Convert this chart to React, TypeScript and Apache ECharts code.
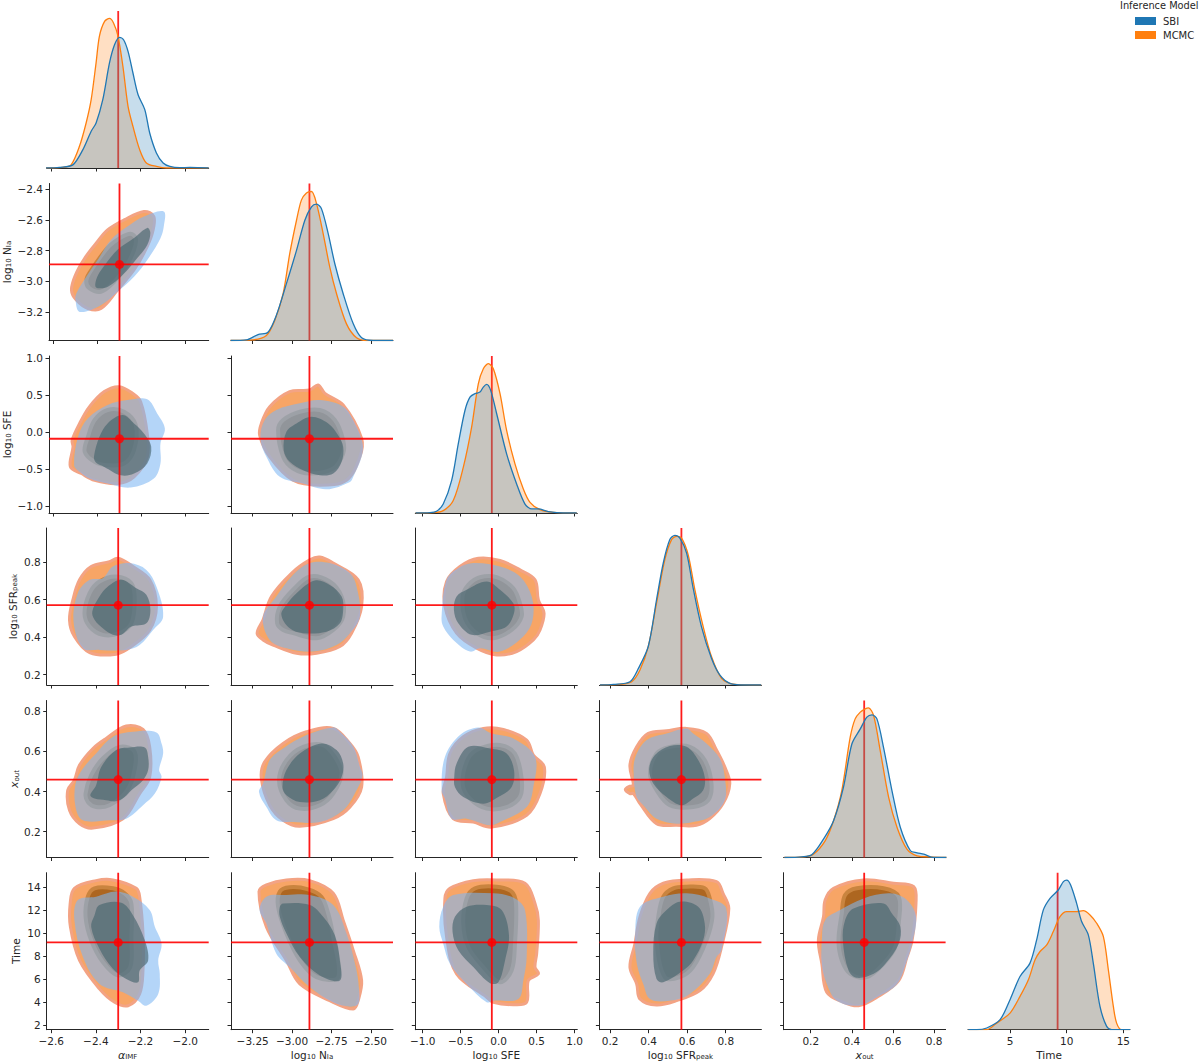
import React, { useEffect, useRef } from "react";
import * as echarts from "echarts";

type Pt = [number, number];

// Truth values, axis limits and ticks per parameter (alpha, NIa, SFE, SFRpeak, xout, Time)
const truths = [-2.3, -2.89, -0.09, 0.57, 0.46, 9.2];
const xLimits: Pt[] = [[-2.62, -1.895], [-3.3875, -2.36], [-1.098, 1.036], [0.1446, 0.985], [0.068, 0.856], [1.29, 15.59]];
const yLimits: Pt[] = [[0, 1], [-3.385, -2.363], [-1.095, 1.03], [0.145, 0.981], [0.0715, 0.854], [1.59, 15.28]];
const xTicks = [[-2.6, -2.4, -2.2, -2.0], [-3.25, -3.0, -2.75, -2.5], [-1, -0.5, 0, 0.5, 1], [0.2, 0.4, 0.6, 0.8], [0.2, 0.4, 0.6, 0.8], [5, 10, 15]];
const yTicks = [[], [-3.2, -3.0, -2.8, -2.6, -2.4], [-1, -0.5, 0, 0.5, 1], [0.2, 0.4, 0.6, 0.8], [0.2, 0.4, 0.6, 0.8], [2, 4, 6, 8, 10, 12, 14]];
const xDecimals = [1, 2, 1, 1, 1, 0];
const yDecimals = [0, 1, 1, 1, 1, 0];
const labelsX = ["{i|α}{s|IMF}", "log{s|10} N{s|Ia}", "log{s|10} SFE", "log{s|10} SFR{s|peak}", "{i|x}{s|out}", "Time"];
const labelsY = ["", "log{s|10} N{s|Ia}", "log{s|10} SFE", "log{s|10} SFR{s|peak}", "{i|x}{s|out}", "Time"];
const nameGapsY = [0, 37, 37, 28, 26, 25];

// Marginal densities, as a fraction of the panel's height
const kdeAlphaMcmc: Pt[] = [[-2.623,0],[-2.548,0.004],[-2.511,0.02],[-2.473,0.14],[-2.443,0.29],[-2.421,0.435],[-2.399,0.67],[-2.384,0.84],[-2.361,0.934],[-2.339,0.953],[-2.321,0.924],[-2.301,0.84],[-2.279,0.648],[-2.256,0.393],[-2.234,0.265],[-2.204,0.117],[-2.174,0.032],[-2.129,0.01],[-2.084,0],[-1.895,0]];
const kdeAlphaSbi: Pt[] = [[-2.623,0],[-2.563,0.004],[-2.503,0.02],[-2.458,0.117],[-2.421,0.234],[-2.399,0.287],[-2.369,0.435],[-2.339,0.669],[-2.316,0.786],[-2.294,0.832],[-2.276,0.817],[-2.256,0.743],[-2.234,0.605],[-2.211,0.467],[-2.181,0.372],[-2.159,0.223],[-2.129,0.096],[-2.099,0.032],[-2.069,0.01],[-2.024,0.002],[-1.979,0.004],[-1.895,0]];
const kdeNiaMcmc: Pt[] = [[-3.39,0],[-3.248,0.004],[-3.163,0.032],[-3.11,0.128],[-3.057,0.298],[-3.015,0.553],[-2.972,0.766],[-2.941,0.894],[-2.909,0.94],[-2.877,0.949],[-2.845,0.872],[-2.803,0.681],[-2.761,0.468],[-2.718,0.298],[-2.655,0.106],[-2.591,0.017],[-2.528,0],[-2.36,0]];
const kdeNiaSbi: Pt[] = [[-3.39,0],[-3.29,0.004],[-3.216,0.038],[-3.153,0.053],[-3.1,0.16],[-3.036,0.362],[-2.972,0.574],[-2.919,0.766],[-2.877,0.851],[-2.845,0.868],[-2.814,0.84],[-2.771,0.681],[-2.729,0.489],[-2.676,0.298],[-2.612,0.106],[-2.559,0.017],[-2.485,0],[-2.36,0]];
const kdeSfeMcmc: Pt[] = [[-1.095,0],[-0.862,0.002],[-0.73,0.015],[-0.598,0.079],[-0.466,0.291],[-0.356,0.547],[-0.268,0.823],[-0.202,0.919],[-0.136,0.951],[-0.07,0.919],[0.018,0.76],[0.105,0.526],[0.215,0.313],[0.325,0.153],[0.413,0.068],[0.545,0.021],[0.721,0.004],[1.029,0]];
const kdeSfeSbi: Pt[] = [[-1.095,0],[-0.905,0.002],[-0.818,0.011],[-0.73,0.057],[-0.62,0.206],[-0.532,0.44],[-0.444,0.653],[-0.378,0.738],[-0.312,0.76],[-0.246,0.77],[-0.202,0.802],[-0.158,0.819],[-0.105,0.781],[-0.026,0.632],[0.105,0.377],[0.237,0.185],[0.347,0.057],[0.435,0.026],[0.523,0.026],[0.655,0.009],[0.853,0],[1.029,0]];
const kdeSfrMcmc: Pt[] = [[0.148,0],[0.252,0.004],[0.312,0.021],[0.355,0.096],[0.398,0.245],[0.441,0.521],[0.484,0.798],[0.519,0.926],[0.545,0.947],[0.571,0.936],[0.605,0.83],[0.64,0.606],[0.683,0.372],[0.726,0.181],[0.778,0.043],[0.838,0.006],[0.984,0]];
const kdeSfrSbi: Pt[] = [[0.148,0],[0.217,0.004],[0.303,0.021],[0.347,0.106],[0.398,0.245],[0.441,0.543],[0.476,0.777],[0.51,0.926],[0.536,0.953],[0.562,0.936],[0.597,0.84],[0.631,0.617],[0.674,0.372],[0.726,0.17],[0.769,0.064],[0.821,0.011],[0.907,0],[0.984,0]];
const kdeXoutMcmc: Pt[] = [[0.072,0],[0.164,0.004],[0.213,0.021],[0.27,0.106],[0.311,0.234],[0.351,0.426],[0.392,0.766],[0.416,0.883],[0.441,0.926],[0.465,0.947],[0.481,0.953],[0.506,0.904],[0.538,0.681],[0.579,0.383],[0.62,0.191],[0.668,0.053],[0.717,0.011],[0.782,0.004],[0.86,0]];
const kdeXoutSbi: Pt[] = [[0.072,0],[0.156,0.004],[0.205,0.017],[0.262,0.117],[0.311,0.234],[0.359,0.447],[0.4,0.723],[0.441,0.819],[0.473,0.894],[0.498,0.909],[0.522,0.883],[0.554,0.702],[0.595,0.426],[0.636,0.191],[0.685,0.043],[0.717,0.03],[0.75,0.021],[0.798,0],[0.86,0]];
const kdeTimeMcmc: Pt[] = [[1.32,0],[2.94,0],[3.82,0.042],[5,0.106],[5.88,0.212],[6.62,0.318],[7.21,0.445],[7.65,0.498],[8.24,0.54],[8.82,0.625],[9.41,0.72],[10,0.752],[10.88,0.752],[11.47,0.758],[12.06,0.731],[12.65,0.678],[13.24,0.593],[13.68,0.381],[14.12,0.148],[14.41,0.042],[14.85,0],[15.59,0]];
const kdeTimeSbi: Pt[] = [[1.32,0],[2.06,0],[2.94,0.011],[4.12,0.064],[5,0.191],[5.88,0.339],[6.76,0.424],[7.35,0.572],[7.94,0.763],[8.53,0.837],[9.26,0.89],[9.71,0.943],[10,0.953],[10.35,0.922],[10.88,0.805],[11.32,0.689],[11.91,0.604],[12.35,0.424],[12.94,0.148],[13.53,0.021],[13.97,0],[15.59,0]];

// Contours: mO = MCMC outer, mI = MCMC inner, bO = SBI outer, bI = SBI inner; suffix = row, column
const mO10: Pt[] = [[-2.518,-3.057],[-2.5,-2.959],[-2.458,-2.85],[-2.406,-2.752],[-2.354,-2.665],[-2.279,-2.6],[-2.189,-2.545],[-2.144,-2.578],[-2.151,-2.687],[-2.189,-2.817],[-2.234,-2.926],[-2.309,-3.057],[-2.384,-3.177],[-2.443,-3.177],[-2.496,-3.122]];
const mI10: Pt[] = [[-2.451,-3.0],[-2.437,-2.946],[-2.353,-2.78],[-2.3,-2.72],[-2.25,-2.69],[-2.226,-2.72],[-2.234,-2.796],[-2.271,-2.905],[-2.324,-3.003],[-2.384,-3.068],[-2.436,-3.046]];
const bO10: Pt[] = [[-2.5,-3.122],[-2.496,-3.079],[-2.451,-2.97],[-2.399,-2.861],[-2.339,-2.73],[-2.264,-2.643],[-2.189,-2.578],[-2.099,-2.545],[-2.099,-2.643],[-2.114,-2.719],[-2.174,-2.861],[-2.234,-2.97],[-2.309,-3.068],[-2.384,-3.155],[-2.481,-3.199]];
const bI10: Pt[] = [[-2.406,-2.99],[-2.383,-2.926],[-2.309,-2.795],[-2.234,-2.718],[-2.174,-2.652],[-2.16,-2.685],[-2.174,-2.763],[-2.219,-2.848],[-2.286,-2.959],[-2.353,-3.035],[-2.406,-3.04]];

const mO20: Pt[] = [[-2.523,-0.47],[-2.511,-0.2],[-2.515,-0.11],[-2.481,0.118],[-2.436,0.344],[-2.369,0.548],[-2.301,0.615],[-2.241,0.525],[-2.204,0.412],[-2.174,-0.018],[-2.174,-0.335],[-2.234,-0.606],[-2.309,-0.697],[-2.413,-0.652],[-2.473,-0.561]];
const mI20: Pt[] = [[-2.458,-0.267],[-2.443,-0.063],[-2.413,0.163],[-2.354,0.299],[-2.279,0.276],[-2.226,0.095],[-2.234,-0.244],[-2.279,-0.425],[-2.354,-0.448],[-2.413,-0.403]];
const bO20: Pt[] = [[-2.506,-0.448],[-2.488,-0.063],[-2.443,0.186],[-2.354,0.367],[-2.264,0.434],[-2.174,0.443],[-2.129,0.253],[-2.094,0.05],[-2.114,-0.154],[-2.114,-0.425],[-2.144,-0.629],[-2.249,-0.751],[-2.354,-0.697],[-2.436,-0.629],[-2.481,-0.538]];
const bI20: Pt[] = [[-2.416,-0.335],[-2.391,-0.063],[-2.354,0.118],[-2.286,0.231],[-2.234,0.118],[-2.189,-0.018],[-2.156,-0.199],[-2.174,-0.425],[-2.234,-0.561],[-2.294,-0.584],[-2.369,-0.471],[-2.406,-0.416]];

const mO30: Pt[] = [[-2.518,0.492],[-2.503,0.598],[-2.473,0.705],[-2.421,0.776],[-2.339,0.802],[-2.301,0.82],[-2.234,0.776],[-2.159,0.705],[-2.129,0.563],[-2.159,0.438],[-2.241,0.35],[-2.309,0.309],[-2.428,0.318],[-2.496,0.403]];
const mI30: Pt[] = [[-2.451,0.527],[-2.428,0.634],[-2.384,0.696],[-2.309,0.723],[-2.241,0.687],[-2.226,0.598],[-2.241,0.474],[-2.294,0.421],[-2.369,0.412],[-2.428,0.456]];
const bO30: Pt[] = [[-2.5,0.483],[-2.481,0.634],[-2.428,0.705],[-2.369,0.714],[-2.324,0.776],[-2.249,0.794],[-2.174,0.758],[-2.129,0.669],[-2.099,0.509],[-2.144,0.438],[-2.204,0.358],[-2.264,0.332],[-2.384,0.332],[-2.458,0.341]];
const bI30: Pt[] = [[-2.416,0.536],[-2.384,0.616],[-2.346,0.669],[-2.286,0.705],[-2.219,0.66],[-2.174,0.625],[-2.156,0.545],[-2.174,0.474],[-2.241,0.456],[-2.286,0.412],[-2.324,0.412],[-2.369,0.447],[-2.406,0.492]];

const mO40: Pt[] = [[-2.526,0.407],[-2.496,0.457],[-2.473,0.532],[-2.413,0.615],[-2.354,0.665],[-2.264,0.727],[-2.189,0.71],[-2.159,0.623],[-2.159,0.473],[-2.204,0.39],[-2.279,0.265],[-2.413,0.218],[-2.473,0.24],[-2.518,0.307]];
const mI40: Pt[] = [[-2.446,0.39],[-2.421,0.482],[-2.369,0.565],[-2.294,0.623],[-2.226,0.598],[-2.234,0.473],[-2.271,0.39],[-2.339,0.332],[-2.399,0.323],[-2.436,0.348]];
const bO40: Pt[] = [[-2.491,0.323],[-2.491,0.44],[-2.458,0.515],[-2.399,0.59],[-2.324,0.673],[-2.234,0.698],[-2.129,0.695],[-2.106,0.64],[-2.099,0.59],[-2.117,0.507],[-2.106,0.473],[-2.136,0.39],[-2.189,0.332],[-2.264,0.265],[-2.339,0.257],[-2.458,0.257]];
const bI40: Pt[] = [[-2.425,0.382],[-2.399,0.432],[-2.376,0.523],[-2.309,0.607],[-2.249,0.62],[-2.181,0.62],[-2.166,0.573],[-2.166,0.507],[-2.189,0.457],[-2.241,0.407],[-2.271,0.373],[-2.309,0.352],[-2.354,0.357],[-2.406,0.365]];

const mO50: Pt[] = [[-2.515,12.6],[-2.496,13.92],[-2.399,14.59],[-2.324,14.65],[-2.219,13.92],[-2.204,13.19],[-2.189,9.97],[-2.189,6.75],[-2.204,4.71],[-2.256,3.68],[-2.316,3.98],[-2.384,5.15],[-2.473,7.63],[-2.514,10.56]];
const mI50: Pt[] = [[-2.446,11.43],[-2.436,13.19],[-2.406,13.92],[-2.324,13.92],[-2.271,13.48],[-2.241,12.6],[-2.241,9.68],[-2.246,7.05],[-2.301,6.32],[-2.369,7.49],[-2.421,9.39]];
const bO50: Pt[] = [[-2.496,11.14],[-2.481,12.89],[-2.399,13.19],[-2.309,13.63],[-2.234,13.19],[-2.159,12.02],[-2.136,10.56],[-2.106,9.09],[-2.121,7.63],[-2.114,6.46],[-2.121,4.71],[-2.174,3.68],[-2.211,4.12],[-2.279,4.85],[-2.384,5.58],[-2.458,7.92]];
const bI50: Pt[] = [[-2.421,10.56],[-2.406,11.58],[-2.384,12.46],[-2.286,12.66],[-2.234,11.58],[-2.181,9.39],[-2.166,7.63],[-2.204,6.75],[-2.211,5.73],[-2.264,6.02],[-2.324,6.9],[-2.384,8.65]];

const mO21: Pt[] = [[-3.206,-0.041],[-3.195,0.118],[-3.142,0.344],[-3.015,0.548],[-2.888,0.57],[-2.835,0.638],[-2.792,0.525],[-2.676,0.367],[-2.559,-0.086],[-2.57,-0.335],[-2.655,-0.652],[-2.824,-0.719],[-2.994,-0.652],[-3.142,-0.335]];
const mI21: Pt[] = [[-3.089,0.027],[-3.057,0.163],[-2.951,0.276],[-2.824,0.299],[-2.729,0.163],[-2.676,-0.109],[-2.676,-0.29],[-2.739,-0.493],[-2.888,-0.561],[-2.994,-0.493],[-3.057,-0.335]];
const bO21: Pt[] = [[-3.201,-0.086],[-3.174,0.163],[-3.1,0.299],[-2.951,0.389],[-2.824,0.434],[-2.676,0.344],[-2.602,0.118],[-2.553,-0.154],[-2.559,-0.335],[-2.612,-0.606],[-2.633,-0.674],[-2.782,-0.774],[-2.93,-0.697],[-3.078,-0.606],[-3.163,-0.335]];
const bI21: Pt[] = [[-3.053,-0.244],[-3.036,0.005],[-2.972,0.118],[-2.877,0.208],[-2.771,0.118],[-2.708,-0.041],[-2.676,-0.199],[-2.686,-0.403],[-2.739,-0.561],[-2.824,-0.584],[-2.93,-0.516],[-3.015,-0.403]];

const mO31: Pt[] = [[-3.222,0.421],[-3.184,0.492],[-3.131,0.616],[-3.004,0.74],[-2.888,0.811],[-2.824,0.826],[-2.739,0.794],[-2.581,0.705],[-2.559,0.563],[-2.623,0.421],[-2.697,0.35],[-2.845,0.314],[-2.972,0.314],[-3.121,0.358],[-3.184,0.385]];
const mI31: Pt[] = [[-3.095,0.474],[-3.078,0.563],[-2.994,0.652],[-2.888,0.723],[-2.761,0.696],[-2.686,0.616],[-2.676,0.509],[-2.739,0.438],[-2.845,0.394],[-2.994,0.421],[-3.057,0.438]];
const bO31: Pt[] = [[-3.184,0.509],[-3.1,0.616],[-3.004,0.723],[-2.888,0.794],[-2.761,0.794],[-2.633,0.74],[-2.591,0.669],[-2.57,0.509],[-2.633,0.421],[-2.718,0.358],[-2.867,0.323],[-3.036,0.341],[-3.142,0.385]];
const bI31: Pt[] = [[-3.068,0.518],[-3.036,0.572],[-2.972,0.634],[-2.856,0.701],[-2.761,0.678],[-2.686,0.616],[-2.676,0.545],[-2.697,0.474],[-2.782,0.429],[-2.93,0.421],[-3.015,0.447]];

const mO41: Pt[] = [[-3.195,0.465],[-3.174,0.548],[-3.057,0.64],[-2.909,0.698],[-2.739,0.715],[-2.633,0.64],[-2.581,0.573],[-2.559,0.423],[-2.633,0.323],[-2.739,0.265],[-2.951,0.227],[-3.057,0.257],[-3.142,0.332]];
const mI41: Pt[] = [[-3.083,0.457],[-3.036,0.557],[-2.93,0.623],[-2.803,0.632],[-2.729,0.573],[-2.686,0.49],[-2.739,0.39],[-2.824,0.332],[-2.951,0.315],[-3.036,0.357]];
const bO41: Pt[] = [[-3.21,0.398],[-3.184,0.44],[-3.142,0.557],[-3.057,0.615],[-2.909,0.682],[-2.739,0.72],[-2.697,0.698],[-2.612,0.623],[-2.57,0.523],[-2.553,0.482],[-2.591,0.407],[-2.676,0.307],[-2.824,0.248],[-2.994,0.248],[-3.1,0.257],[-3.163,0.323]];
const bI41: Pt[] = [[-3.061,0.423],[-3.036,0.507],[-2.951,0.59],[-2.814,0.64],[-2.718,0.607],[-2.676,0.54],[-2.686,0.473],[-2.739,0.407],[-2.824,0.357],[-2.951,0.348],[-3.036,0.382]];

const mO51: Pt[] = [[-3.21,13.63],[-3.163,14.21],[-3.036,14.65],[-2.888,14.59],[-2.739,13.48],[-2.676,11.14],[-2.612,8.51],[-2.559,5.88],[-2.581,4.12],[-2.612,3.39],[-2.761,4.12],[-2.951,5.58],[-3.036,7.63],[-3.163,10.56]];
const mI51: Pt[] = [[-3.089,12.31],[-3.078,13.63],[-3.015,14.01],[-2.898,13.83],[-2.814,13.19],[-2.771,11.73],[-2.739,9.68],[-2.708,6.17],[-2.845,6.17],[-2.951,7.63],[-3.036,9.97]];
const bO51: Pt[] = [[-3.206,12.02],[-3.163,13.19],[-3.036,13.33],[-2.888,13.33],[-2.739,12.46],[-2.655,9.97],[-2.591,6.75],[-2.574,4.71],[-2.581,3.83],[-2.633,3.6],[-2.739,3.98],[-2.888,5.29],[-3.015,7.05],[-3.1,8.22],[-3.163,10.85]];
const bI51: Pt[] = [[-3.078,12.31],[-3.057,12.6],[-2.888,12.46],[-2.803,11.43],[-2.729,9.82],[-2.697,7.63],[-2.697,5.88],[-2.824,6.32],[-2.951,7.92],[-3.036,9.97],[-3.078,11.43]];

const mO32: Pt[] = [[-0.686,0.696],[-0.51,0.776],[-0.268,0.82],[0.018,0.808],[0.281,0.758],[0.479,0.705],[0.523,0.598],[0.598,0.527],[0.545,0.438],[0.457,0.385],[0.237,0.323],[-0.026,0.305],[-0.29,0.341],[-0.554,0.421],[-0.708,0.563]];
const mI32: Pt[] = [[-0.475,0.616],[-0.4,0.678],[-0.246,0.719],[-0.026,0.719],[0.193,0.66],[0.281,0.58],[0.303,0.509],[0.171,0.438],[-0.07,0.394],[-0.29,0.421],[-0.444,0.5]];
const bO32: Pt[] = [[-0.752,0.509],[-0.686,0.705],[-0.532,0.767],[-0.334,0.794],[0.018,0.776],[0.281,0.723],[0.435,0.616],[0.448,0.492],[0.325,0.403],[0.018,0.323],[-0.246,0.341],[-0.378,0.323],[-0.598,0.385],[-0.73,0.456]];
const bI32: Pt[] = [[-0.589,0.545],[-0.554,0.616],[-0.422,0.652],[-0.158,0.696],[0.018,0.652],[0.193,0.58],[0.202,0.527],[0.105,0.456],[-0.114,0.429],[-0.356,0.412],[-0.532,0.474]];

const mO42: Pt[] = [[-0.686,0.473],[-0.642,0.59],[-0.466,0.673],[-0.202,0.715],[0.062,0.71],[0.369,0.657],[0.457,0.582],[0.602,0.523],[0.545,0.39],[0.369,0.282],[-0.092,0.223],[-0.334,0.248],[-0.598,0.265],[-0.73,0.39]];
const mI42: Pt[] = [[-0.475,0.44],[-0.4,0.565],[-0.246,0.615],[0.018,0.632],[0.215,0.59],[0.303,0.465],[0.281,0.373],[0.105,0.323],[-0.158,0.315],[-0.378,0.365]];
const bO42: Pt[] = [[-0.752,0.407],[-0.708,0.573],[-0.51,0.682],[-0.268,0.72],[-0.092,0.69],[0.193,0.665],[0.479,0.573],[0.457,0.423],[0.369,0.323],[0.018,0.248],[-0.114,0.232],[-0.422,0.265],[-0.62,0.265],[-0.708,0.365]];
const bI42: Pt[] = [[-0.585,0.473],[-0.554,0.54],[-0.4,0.623],[-0.114,0.615],[0.105,0.59],[0.202,0.507],[0.171,0.423],[-0.004,0.373],[-0.202,0.34],[-0.466,0.373],[-0.576,0.423]];

const mO52: Pt[] = [[-0.708,13.04],[-0.642,13.92],[-0.334,14.59],[-0.026,14.65],[0.347,14.36],[0.479,12.6],[0.523,11.14],[0.501,8.22],[0.479,7.05],[0.523,6.46],[0.391,5.88],[0.369,3.98],[0.193,3.77],[-0.07,3.98],[-0.158,4.42],[-0.554,6.46],[-0.686,9.68]];
const mI52: Pt[] = [[-0.466,10.85],[-0.422,13.04],[-0.312,13.92],[-0.026,14.06],[0.171,13.63],[0.229,12.6],[0.215,9.09],[0.171,6.75],[0.018,5.73],[-0.202,7.05],[-0.4,8.8]];
const bO52: Pt[] = [[-0.782,10.56],[-0.73,12.31],[-0.598,13.33],[-0.07,13.48],[0.215,13.04],[0.347,12.02],[0.369,7.92],[0.325,5.88],[0.259,4.27],[-0.07,4.12],[-0.158,3.98],[-0.422,5.58],[-0.642,7.34],[-0.73,9.09]];
const bI52: Pt[] = [[-0.607,10.12],[-0.576,11.43],[-0.422,12.31],[-0.158,12.46],[0.04,12.02],[0.136,9.82],[0.084,7.63],[-0.004,5.73],[-0.114,5.64],[-0.334,7.05],[-0.532,8.51]];

const mO43: Pt[] = [[0.303,0.532],[0.338,0.623],[0.398,0.69],[0.493,0.703],[0.597,0.715],[0.7,0.69],[0.752,0.607],[0.795,0.523],[0.821,0.44],[0.786,0.34],[0.717,0.265],[0.648,0.232],[0.545,0.232],[0.441,0.24],[0.355,0.34],[0.321,0.39],[0.303,0.39],[0.279,0.41],[0.303,0.427],[0.321,0.432]];
const mI43: Pt[] = [[0.407,0.49],[0.441,0.59],[0.51,0.623],[0.614,0.623],[0.691,0.557],[0.726,0.44],[0.709,0.357],[0.631,0.323],[0.51,0.332],[0.441,0.407]];
const bO43: Pt[] = [[0.324,0.457],[0.329,0.565],[0.39,0.657],[0.493,0.69],[0.597,0.715],[0.631,0.69],[0.7,0.64],[0.769,0.565],[0.795,0.473],[0.795,0.357],[0.717,0.273],[0.631,0.248],[0.545,0.24],[0.441,0.265],[0.372,0.332],[0.338,0.373]];
const bI43: Pt[] = [[0.403,0.515],[0.433,0.582],[0.51,0.627],[0.597,0.623],[0.657,0.557],[0.691,0.473],[0.683,0.407],[0.631,0.365],[0.571,0.332],[0.493,0.373],[0.424,0.44]];

const mO53: Pt[] = [[0.303,7.05],[0.329,9.09],[0.355,11.43],[0.407,13.48],[0.476,14.36],[0.597,14.65],[0.752,14.5],[0.786,13.48],[0.816,12.16],[0.778,8.8],[0.734,6.46],[0.666,5],[0.545,4.12],[0.441,3.74],[0.355,4.27],[0.338,5.58]];
const mI53: Pt[] = [[0.441,9.39],[0.45,11.43],[0.476,13.19],[0.528,13.92],[0.597,14.06],[0.691,13.92],[0.717,13.04],[0.731,11.43],[0.7,9.39],[0.631,7.05],[0.562,6.17],[0.484,6.17]];
const bO53: Pt[] = [[0.334,7.92],[0.329,9.68],[0.355,12.31],[0.476,13.19],[0.597,13.48],[0.717,13.04],[0.803,12.16],[0.778,8.51],[0.752,7.92],[0.717,6.46],[0.614,4.71],[0.51,4.12],[0.407,4.27],[0.372,5.58],[0.347,6.75]];
const bI53: Pt[] = [[0.424,8.22],[0.441,10.85],[0.493,12.02],[0.562,12.75],[0.657,12.31],[0.691,10.85],[0.683,9.39],[0.631,7.63],[0.579,6.75],[0.476,5.73],[0.441,6.02]];

const mO54: Pt[] = [[0.237,9.39],[0.262,11.43],[0.27,12.89],[0.311,13.92],[0.457,14.65],[0.603,14.36],[0.701,14.06],[0.712,12.6],[0.693,9.39],[0.668,7.92],[0.628,5.88],[0.522,4.42],[0.433,3.68],[0.359,3.98],[0.278,4.85],[0.254,7.34]];
const mI54: Pt[] = [[0.335,9.39],[0.351,11.73],[0.367,13.33],[0.424,13.92],[0.554,13.92],[0.628,13.19],[0.628,10.85],[0.611,8.8],[0.554,7.34],[0.473,6.17],[0.392,6.46],[0.351,7.63]];
const bO54: Pt[] = [[0.254,9.39],[0.27,11.14],[0.343,12.02],[0.457,13.04],[0.587,13.48],[0.668,12.89],[0.712,11.43],[0.693,9.09],[0.668,7.63],[0.62,5.58],[0.522,4.42],[0.433,3.68],[0.327,4.12],[0.278,5.58],[0.254,7.34]];
const bI54: Pt[] = [[0.356,9.39],[0.367,11.14],[0.408,12.16],[0.554,12.6],[0.595,11.73],[0.636,10.56],[0.628,9.09],[0.563,7.34],[0.506,6.46],[0.424,6.11],[0.384,6.75]];

const panelContours: [number, number, Pt[], Pt[], Pt[], Pt[]][] = [
  [1, 0, mO10, mI10, bO10, bI10], [2, 0, mO20, mI20, bO20, bI20], [3, 0, mO30, mI30, bO30, bI30], [4, 0, mO40, mI40, bO40, bI40], [5, 0, mO50, mI50, bO50, bI50],
  [2, 1, mO21, mI21, bO21, bI21], [3, 1, mO31, mI31, bO31, bI31], [4, 1, mO41, mI41, bO41, bI41], [5, 1, mO51, mI51, bO51, bI51],
  [3, 2, mO32, mI32, bO32, bI32], [4, 2, mO42, mI42, bO42, bI42], [5, 2, mO52, mI52, bO52, bI52],
  [4, 3, mO43, mI43, bO43, bI43], [5, 3, mO53, mI53, bO53, bI53],
  [5, 4, mO54, mI54, bO54, bI54],
];
const diagonals: [Pt[], Pt[]][] = [[kdeAlphaMcmc, kdeAlphaSbi], [kdeNiaMcmc, kdeNiaSbi], [kdeSfeMcmc, kdeSfeSbi], [kdeSfrMcmc, kdeSfrSbi], [kdeXoutMcmc, kdeXoutSbi], [kdeTimeMcmc, kdeTimeSbi]];

const colLeft = [46.7, 231, 415.3, 599.4, 783.6, 968];
const rowTop = [11, 183.5, 356, 528, 700.5, 872.7];
const PANEL_W = 162;
const PANEL_H = 157;
const FONT = "DejaVu Sans";
const INK = "#262626";
const BLUE = "#1f77b4";
const ORANGE = "#ff7f0e";
const layerStyles = [
  { fill: "#f7a566", stroke: "#f3a384", lineWidth: 3, lineJoin: "round" },
  { fill: "#ad6620", stroke: "#c9843f", lineWidth: 4, lineJoin: "round" },
  { fill: "rgba(126,183,243,0.58)" },
  { fill: "rgba(70,100,110,0.64)" },
];
const rich = {
  s: { fontSize: 7, fontFamily: FONT, color: INK, verticalAlign: "bottom", padding: [4, 0, 0, 0] },
  i: { fontSize: 11, fontFamily: FONT, color: INK, fontStyle: "italic" },
};
const fmt = (d: number) => (v: number) => v.toFixed(d).replace("-", "\u2212");

function buildOption() {
  const grid: any[] = [];
  const xAxis: any[] = [];
  const yAxis: any[] = [];
  const series: any[] = [];
  const addPanel = (r: number, c: number) => {
    const idx = grid.length;
    const diag = r === c;
    grid.push({ left: colLeft[c], top: rowTop[r], width: PANEL_W, height: PANEL_H, containLabel: false });
    const bottom = r === 5;
    const axisLine = { show: true, onZero: false, lineStyle: { color: INK, width: 1 } };
    xAxis.push({
      type: "value", gridIndex: idx, min: xLimits[c][0], max: xLimits[c][1], splitLine: { show: false },
      axisLine,
      axisTick: { show: true, length: 3.5, lineStyle: { color: INK, width: 1 }, customValues: xTicks[c] },
      axisLabel: { show: bottom, customValues: xTicks[c], formatter: fmt(xDecimals[c]), fontFamily: FONT, fontSize: 10.5, color: INK, margin: 6 },
      name: bottom ? labelsX[c] : "", nameLocation: "middle", nameGap: 20,
      nameTextStyle: { fontFamily: FONT, fontSize: 10.5, color: INK, rich },
    });
    yAxis.push(diag
      ? { type: "value", gridIndex: idx, min: 0, max: 1, show: false }
      : {
          type: "value", gridIndex: idx, min: yLimits[r][0], max: yLimits[r][1], splitLine: { show: false },
          axisLine,
          axisTick: { show: true, length: 3.5, lineStyle: { color: INK, width: 1 }, customValues: yTicks[r] },
          axisLabel: { show: c === 0, customValues: yTicks[r], formatter: fmt(yDecimals[r]), fontFamily: FONT, fontSize: 10.5, color: INK, margin: 6 },
          name: c === 0 ? labelsY[r] : "", nameLocation: "middle", nameRotate: 90, nameGap: nameGapsY[r],
          nameTextStyle: { fontFamily: FONT, fontSize: 10.5, color: INK, rich },
        });
    return idx;
  };

  diagonals.forEach(([mcmc, sbi], i) => {
    const idx = addPanel(i, i);
    series.push({ type: "line", xAxisIndex: idx, yAxisIndex: idx, data: [[truths[i], 0], [truths[i], 1]], showSymbol: false, silent: true, z: 1, lineStyle: { color: "#ff0000", width: 1.8, opacity: 0.85 } });
    ([["MCMC", mcmc, ORANGE], ["SBI", sbi, BLUE]] as [string, Pt[], string][]).forEach(([name, data, color]) => {
      series.push({ name, type: "line", xAxisIndex: idx, yAxisIndex: idx, data, showSymbol: false, smooth: 0.3, silent: true, z: 2, lineStyle: { color, width: 1.3 }, itemStyle: { color }, areaStyle: { color, opacity: 0.25 } });
    });
  });

  panelContours.forEach(([r, c, mO, mI, bO, bI]) => {
    const idx = addPanel(r, c);
    [mO, mI, bO, bI].forEach((poly, l) => {
      series.push({
        type: "custom", xAxisIndex: idx, yAxisIndex: idx, data: poly, encode: { x: 0, y: 1 }, silent: true, clip: false, z: 2,
        renderItem: (params: any, api: any) => {
          if (params.dataIndex !== 0) return null;
          return { type: "polygon", shape: { points: poly.map((p) => api.coord(p)), smooth: 0.35 }, style: layerStyles[l] };
        },
      });
    });
    series.push({ type: "line", xAxisIndex: idx, yAxisIndex: idx, data: [[truths[c], yLimits[r][0]], [truths[c], yLimits[r][1]]], showSymbol: false, silent: true, z: 3, lineStyle: { color: "#ff0000", width: 1.8, opacity: 0.9 } });
    series.push({ type: "line", xAxisIndex: idx, yAxisIndex: idx, data: [[xLimits[c][0], truths[r]], [xLimits[c][1], truths[r]]], showSymbol: false, silent: true, z: 3, lineStyle: { color: "#ff0000", width: 1.8, opacity: 0.9 } });
    series.push({ type: "scatter", xAxisIndex: idx, yAxisIndex: idx, data: [[truths[c], truths[r]]], symbolSize: 9, silent: true, z: 4, itemStyle: { color: "#ff0000" } });
  });

  return {
    animation: false,
    backgroundColor: "#ffffff",
    grid, xAxis, yAxis, series,
    legend: {
      orient: "vertical", left: 1130, top: 11, itemWidth: 21, itemHeight: 8, itemGap: 4, icon: "rect", selectedMode: false,
      textStyle: { fontFamily: FONT, fontSize: 10, color: INK, padding: [0, 0, 0, 2] },
      data: [{ name: "SBI", icon: "rect", itemStyle: { color: BLUE } }, { name: "MCMC", icon: "rect", itemStyle: { color: ORANGE } }],
    },
    graphic: [{ type: "text", left: 1120, top: 0, style: { text: "Inference Model", fontFamily: FONT, fontSize: 9.8, fill: INK } }],
  };
}

export default function App() {
  const ref = useRef<HTMLDivElement>(null);
  useEffect(() => {
    const chart = echarts.init(ref.current!, undefined, { renderer: "svg" });
    chart.setOption(buildOption() as any);
    return () => chart.dispose();
  }, []);
  return <div ref={ref} style={{ position: "absolute", left: 0, top: 0, width: 1200, height: 1062 }} />;
}
